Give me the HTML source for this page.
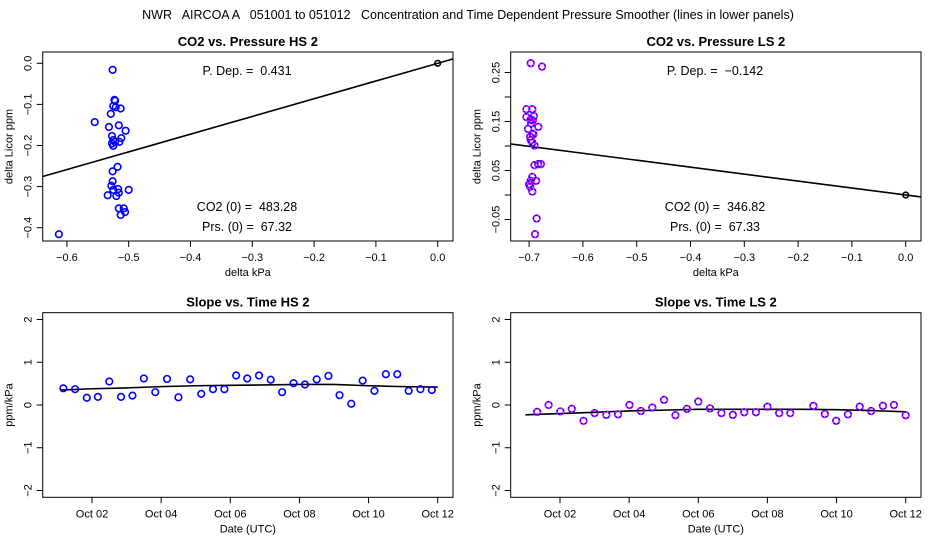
<!DOCTYPE html>
<html><head><meta charset="utf-8"><style>
body{margin:0;background:#fff;}
svg{display:block;font-family:"Liberation Sans",sans-serif;}
svg text{white-space:pre;}
</style></head><body>
<svg id="c" width="936" height="540" xmlns="http://www.w3.org/2000/svg" xml:space="preserve">
<text x="468" y="19" text-anchor="middle" font-size="12.5">NWR   AIRCOA A   051001 to 051012   Concentration and Time Dependent Pressure Smoother (lines in lower panels)</text>
</svg>
<script>
// Panel 1 data (HS CO2 vs pressure)
const hsDP=[-0.526,-0.523,-0.522,-0.525,-0.521,-0.513,-0.529,-0.555,-0.532,-0.516,-0.505,-0.527,-0.512,-0.525,-0.522,-0.527,-0.515,-0.525,-0.518,-0.526,-0.526,-0.528,-0.525,-0.517,-0.516,-0.500,-0.534,-0.520,-0.516,-0.508,-0.506,-0.513,-0.613];
const hsDC=[-0.016,-0.089,-0.091,-0.104,-0.107,-0.110,-0.123,-0.143,-0.155,-0.151,-0.164,-0.177,-0.182,-0.187,-0.191,-0.195,-0.191,-0.201,-0.252,-0.263,-0.287,-0.298,-0.308,-0.306,-0.315,-0.308,-0.321,-0.323,-0.353,-0.353,-0.362,-0.369,-0.416];
const hsSlope=0.431;
// Panel 2 data (LS CO2 vs pressure)
const lsDP=[-0.697,-0.676,-0.705,-0.694,-0.705,-0.691,-0.697,-0.693,-0.696,-0.702,-0.683,-0.694,-0.698,-0.692,-0.697,-0.694,-0.690,-0.690,-0.683,-0.678,-0.694,-0.697,-0.700,-0.698,-0.687,-0.694,-0.686,-0.689];
const lsDC=[0.269,0.262,0.175,0.175,0.159,0.161,0.154,0.152,0.146,0.135,0.139,0.125,0.119,0.124,0.112,0.107,0.101,0.061,0.063,0.063,0.037,0.029,0.022,0.017,0.029,0.007,-0.048,-0.080];
const lsSlope=-0.142;
// Panel 3 data (HS slope vs time), x = day of October
const hsDay=[1.17,1.51,1.85,2.17,2.50,2.84,3.17,3.50,3.83,4.17,4.50,4.84,5.16,5.50,5.83,6.17,6.49,6.83,7.17,7.50,7.83,8.16,8.50,8.84,9.16,9.50,9.83,10.17,10.50,10.83,11.16,11.50,11.83];
const hsVal=[0.39,0.37,0.17,0.19,0.55,0.19,0.22,0.62,0.30,0.61,0.18,0.60,0.26,0.37,0.37,0.69,0.62,0.69,0.59,0.30,0.51,0.48,0.60,0.68,0.23,0.03,0.57,0.33,0.72,0.72,0.33,0.37,0.35];
const hsSmDay=[1.1,2,3,4,5,6,7,8,9,10,11,12];
const hsSmVal=[0.35,0.38,0.40,0.43,0.45,0.46,0.47,0.48,0.48,0.45,0.43,0.42];
// Panel 4 data (LS slope vs time)
const lsDay=[1.34,1.67,2.01,2.34,2.68,3.00,3.34,3.68,4.01,4.34,4.67,5.01,5.34,5.67,6.00,6.34,6.67,7.00,7.33,7.67,8.00,8.34,8.66,9.33,9.66,9.99,10.33,10.67,11.00,11.34,11.66,12.00];
const lsVal=[-0.16,0.00,-0.15,-0.09,-0.37,-0.19,-0.23,-0.22,0.00,-0.14,-0.06,0.12,-0.24,-0.09,0.08,-0.08,-0.19,-0.23,-0.17,-0.17,-0.04,-0.19,-0.19,-0.02,-0.21,-0.37,-0.22,-0.04,-0.14,-0.02,0.00,-0.24];
const lsSmDay=[1.0,2,3,4,5,6,7,8,9,10,11,12];
const lsSmVal=[-0.23,-0.20,-0.17,-0.14,-0.12,-0.10,-0.10,-0.10,-0.10,-0.11,-0.13,-0.16];
const topXTicks=[-0.6,-0.5,-0.4,-0.3,-0.2,-0.1,0.0];
const topXTicksR=[-0.7,-0.6,-0.5,-0.4,-0.3,-0.2,-0.1,0.0];
const hsYTicks=[0.0,-0.1,-0.2,-0.3,-0.4];
const lsYTicks=[0.25,0.20,0.15,0.10,0.05,0.00,-0.05];
const lsYLabels=["0.25","","0.15","","0.05","","-0.05"];
const dateTicks=[2,4,6,8,10,12];
const dateLabels=["Oct 02","Oct 04","Oct 06","Oct 08","Oct 10","Oct 12"];
const slopeYTicks=[2,1,0,-1,-2];

const svg=document.getElementById('c');
const NS='http://www.w3.org/2000/svg';
function mk(tag,attrs,parent){const e=document.createElementNS(NS,tag);for(const k in attrs)e.setAttribute(k,attrs[k]);(parent||svg).appendChild(e);return e;}
function fmt(v,d){return (v<0?'\u2212':'')+Math.abs(v).toFixed(d);}

function panel(o){
  const g=mk('g',{});
  
  
  const t=mk('text',{x:(o.x0+o.x1)/2,y:o.y0-6,'text-anchor':'middle','font-size':13,'font-weight':'bold'},g);
  t.textContent=o.title;
  
  
  const b=mk('rect',{x:o.x0,y:o.y0,width:o.x1-o.x0,height:o.y1-o.y0,fill:'none',stroke:'#000','stroke-width':1},g);
  
  
  o.xt.forEach((v,i)=>{const px=o.sx(v);
    mk('line',{x1:px,x2:px,y1:o.y1,y2:o.y1+6,stroke:'#000'},g);
    const l=mk('text',{x:px,y:o.y1+20,'text-anchor':'middle','font-size':11},g);
    l.textContent=o.xl[i];
    
    });
  o.yt.forEach((v,i)=>{const py=o.sy(v);
    mk('line',{x1:o.x0-6,x2:o.x0,y1:py,y2:py,stroke:'#000'},g);
    const l=mk('text',{x:0,y:0,'text-anchor':'middle','font-size':11,transform:`translate(${o.x0-11},${py}) rotate(-90)`},g);
    l.textContent=o.yl[i];
    
    });
  const xa=mk('text',{x:(o.x0+o.x1)/2,y:o.y1+35,'text-anchor':'middle','font-size':11},g);
  xa.textContent=o.xlab;
  
  
  const cy=(o.y0+o.y1)/2;
  const ya=mk('text',{x:0,y:0,'text-anchor':'middle','font-size':11,transform:`translate(${o.x0-30},${cy}) rotate(-90)`},g);
  ya.textContent=o.ylab;
  
  
  const cp=mk('clipPath',{id:'cp'+o.name},g);
  mk('rect',{x:o.x0,y:o.y0,width:o.x1-o.x0,height:o.y1-o.y0},cp);
  const inner=mk('g',{'clip-path':`url(#cp${o.name})`},g);
  return inner;
}
function pts(g,xs,ys,sx,sy,magenta){
  xs.forEach((x,i)=>{
    const c=mk('circle',{cx:sx(x),cy:sy(ys[i]),r:3.3,fill:'none',stroke:'#0000ff','stroke-width':1.6},g);
    
    
    if(magenta){mk('circle',{cx:sx(x),cy:sy(ys[i]),r:3.3,fill:'none',stroke:'#ff00ff','stroke-width':1.6,'stroke-dasharray':'2 2'},g);}
  });
}
function txt(x,y,s,name){const t=mk('text',{x:x,y:y,'text-anchor':'middle','font-size':12.5});t.textContent=s;
  
  }

// Panel 1
{const sx=v=>437.7+v*618, sy=v=>63.3-v*411;
 const g=panel({name:'panel-co2-hs',title:'CO2 vs. Pressure HS 2',x0:42.7,x1:453,y0:52,y1:241,sx:sx,sy:sy,xt:topXTicks,xl:topXTicks.map(v=>fmt(v,1)),yt:hsYTicks,yl:hsYTicks.map(v=>fmt(v,1)),xlab:'delta kPa',ylab:'delta Licor ppm'});
 const l=mk('line',{x1:sx(-0.7),y1:sy(-0.7*hsSlope),x2:sx(0.05),y2:sy(0.05*hsSlope),stroke:'#000','stroke-width':1.6},g);
 
 
 pts(g,hsDP,hsDC,sx,sy,false);
 mk('circle',{cx:sx(0),cy:sy(0),r:2.8,fill:'none',stroke:'#000','stroke-width':1.6},g);
 txt(247,75,'P. Dep. =  0.431','p-dep-label');
 txt(247,211,'CO2 (0) =  483.28','co2-zero-label');
 txt(247,231,'Prs. (0) =  67.32','prs-zero-label');}
// Panel 2
{const sx=v=>905.7+v*538, sy=v=>195-v*490;
 const g=panel({name:'panel-co2-ls',title:'CO2 vs. Pressure LS 2',x0:510.7,x1:921,y0:52,y1:241,sx:sx,sy:sy,xt:topXTicksR,xl:topXTicksR.map(v=>fmt(v,1)),yt:lsYTicks,yl:lsYLabels.map(s=>s.replace('-','\u2212')),xlab:'delta kPa',ylab:'delta Licor ppm'});
 const l=mk('line',{x1:sx(-0.8),y1:sy(-0.8*lsSlope),x2:sx(0.05),y2:sy(0.05*lsSlope),stroke:'#000','stroke-width':1.6},g);
 
 
 pts(g,lsDP,lsDC,sx,sy,true);
 mk('circle',{cx:sx(0),cy:sy(0),r:2.8,fill:'none',stroke:'#000','stroke-width':1.6},g);
 txt(715,75,'P. Dep. =  \u22120.142','p-dep-label');
 txt(715,211,'CO2 (0) =  346.82','co2-zero-label');
 txt(715,231,'Prs. (0) =  67.33','prs-zero-label');}
// Panels 3 & 4
function slopePanel(off,name,title,days,vals,smD,smV,mag){
  const sx=d=>off+92+(d-2)*34.57, sy=v=>405-v*42.75;
  const g=panel({name:name,title:title,x0:off+42.7,x1:off+453,y0:312.7,y1:497.3,sx:sx,sy:sy,xt:dateTicks,xl:dateLabels,yt:slopeYTicks,yl:slopeYTicks.map(v=>fmt(v,0)),xlab:'Date (UTC)',ylab:'ppm/kPa'});
  const p=mk('polyline',{points:smD.map((d,i)=>sx(d)+','+sy(smV[i])).join(' '),fill:'none',stroke:'#000','stroke-width':1.6},g);
  
  
  pts(g,days,vals,sx,sy,mag);
}
slopePanel(0,'panel-slope-hs','Slope vs. Time HS 2',hsDay,hsVal,hsSmDay,hsSmVal,false);
slopePanel(468,'panel-slope-ls','Slope vs. Time LS 2',lsDay,lsVal,lsSmDay,lsSmVal,true);
</script>
</body></html>
